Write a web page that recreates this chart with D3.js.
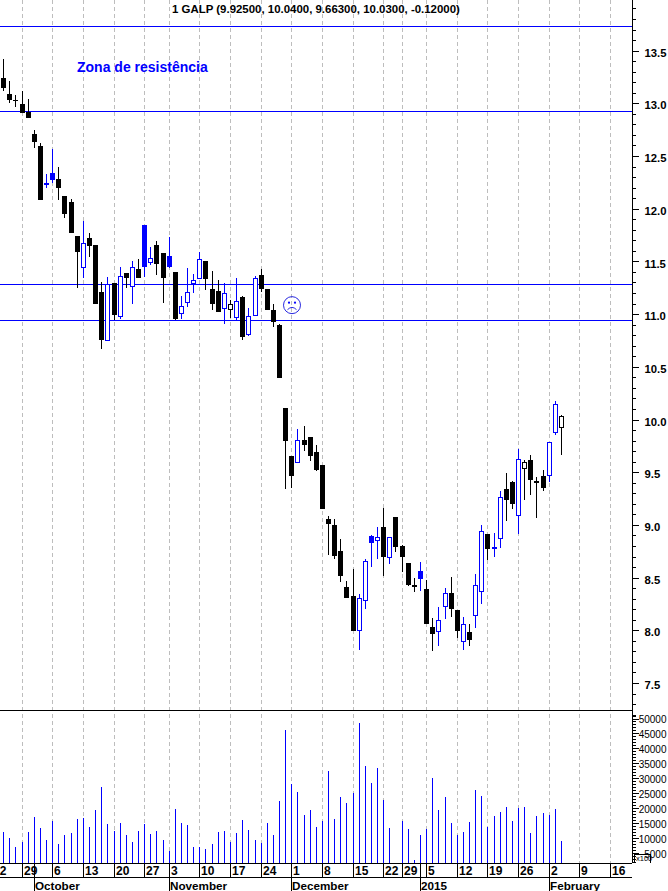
<!DOCTYPE html>
<html>
<head>
<meta charset="utf-8">
<script src="https://cdn.jsdelivr.net/npm/d3@7/dist/d3.min.js"></script>
<style>
html,body{margin:0;padding:0;background:#fff;overflow:hidden}
svg{display:block}
text{font-family:"Liberation Sans",Arial,sans-serif;fill:#000}
</style>
</head>
<body>
<svg id="c" width="668" height="891"></svg>
<script>
const title = "1 GALP (9.92500, 10.0400, 9.66300, 10.0300, -0.12000)";
const annotation = "Zona de resistência";
const tradingDays = [
 ["2014-09",[22,23,24,25,26,29,30]],
 ["2014-10",[1,2,3,6,7,8,9,10,13,14,15,16,17,20,21,22,23,24,27,28,29,30]],
 ["2014-11",[3,4,5,6,7,10,11,12,13,14,17,18,19,20,21,24,25,26,27,28]],
 ["2014-12",[1,2,3,4,5,8,9,10,11,12,15,16,17,18,19,22,23,24,29,30,31]],
 ["2015-01",[2,5,6,7,8,9,12,13,14,15,16,19,20,21,22,23,26,27,28,29,30]],
 ["2015-02",[2,3,4,5,6,9,10,11,12,13,16,17]]
];
const firstCandleDay = 2;
const open = [13.24,13.088,13.034,12.993,12.92,12.709,12.595,12.231,12.339,12.282,12.12,12.063,11.741,11.444,11.722,11.655,11.21,10.751,11.295,10.982,11.39,11.264,11.428,11.845,11.497,11.655,11.577,11.548,11.396,11.007,11.118,11.298,11.339,11.504,11.238,11.219,11.06,11.045,10.975,11.162,10.814,10.994,11.371,11.238,11.039,10.896,10.106,9.651,9.594,9.805,9.834,9.691,9.568,9.056,8.999,8.752,8.411,8.325,8.005,8.284,8.894,8.854,8.98,8.698,9.075,8.8,8.638,8.427,8.562,8.392,8.031,7.996,8.233,8.354,8.192,7.901,7.984,8.148,8.375,8.913,8.778,8.873,9.34,9.407,9.097,9.542,9.616,9.416,9.464,9.476,9.884,9.925];
const high = [13.42,13.211,13.079,13.119,13.041,12.747,12.62,12.329,12.566,12.395,12.12,12.092,11.744,11.883,11.769,11.655,11.304,11.352,11.295,11.45,11.39,11.504,11.523,11.845,11.636,11.69,11.58,11.731,11.402,11.172,11.437,11.377,11.586,11.504,11.409,11.323,11.292,11.134,11.339,11.169,11.058,11.361,11.428,11.238,11.096,10.909,10.106,9.651,9.91,9.938,9.834,9.758,9.568,9.084,9.056,8.866,8.467,8.581,8.341,8.676,8.904,8.98,9.16,8.888,9.075,8.809,8.638,8.496,8.648,8.477,8.116,8.221,8.401,8.505,8.192,8.126,8.059,8.534,8.999,8.913,8.923,9.321,9.492,9.416,9.72,9.613,9.663,9.454,9.521,9.783,10.175,10.04];
const low = [13.119,13.006,12.968,12.911,12.863,12.579,12.082,12.199,12.244,12.082,11.912,11.772,11.25,11.345,11.544,11.098,10.669,10.751,10.944,10.953,11.25,11.098,11.345,11.352,11.466,11.371,11.108,11.437,10.944,10.953,11.07,11.203,11.339,11.229,11.039,11.02,10.909,10.96,10.944,10.754,10.792,10.994,11.212,11.042,10.88,10.396,9.343,9.353,9.594,9.704,9.609,9.514,9.151,8.714,8.676,8.458,8.306,7.993,7.813,8.202,8.6,8.676,8.515,8.629,8.743,8.553,8.42,8.363,8.373,8.059,7.803,7.851,8.107,8.126,7.927,7.816,7.851,8.022,8.249,8.667,8.695,8.78,9.037,9.151,8.913,9.236,9.283,9.065,9.321,9.407,9.853,9.663];
const close = [13.148,13.031,13.028,12.911,12.863,12.636,12.082,12.244,12.269,12.199,11.95,11.772,11.592,11.672,11.646,11.098,10.757,11.283,10.991,11.364,11.345,11.444,11.345,11.45,11.529,11.475,11.345,11.45,10.95,11.074,11.212,11.32,11.52,11.336,11.098,11.02,11.197,11.093,11.121,10.785,10.979,11.339,11.238,11.042,10.928,10.396,9.799,9.467,9.802,9.761,9.656,9.521,9.151,9.008,8.705,8.515,8.306,7.993,8.303,8.654,8.828,8.882,8.695,8.882,8.79,8.695,8.43,8.411,8.486,8.059,7.964,8.095,8.351,8.202,7.993,8.057,7.908,8.427,8.939,8.771,8.787,9.262,9.236,9.198,9.622,9.594,9.429,9.4,9.35,9.783,10.15,10.03];
const volume = [12040,10030,7020,8690,12040,17050,13380,9360,15720,8030,11030,11700,16390,16720,13710,19400,27090,14710,12370,15050,11030,8690,12370,14710,11370,12370,9360,5680,19730,15050,14380,7020,7020,6350,8030,12040,12370,8690,11700,16050,12710,9360,8360,15050,11030,22400,46150,28090,25410,17720,19400,13710,15720,32440,16390,23740,21740,25080,48490,34110,28420,33440,22740,13380,0,15720,13040,2680,11030,13040,30100,19400,23740,15050,11030,12040,15380,26080,24080,13710,17390,18730,20400,15720,20060,20400,11700,17390,18390,17720,19730,9030];
const levels = [13.733,12.924,11.283,10.941];
const priceLabels = [7.5,8,8.5,9,9.5,10,10.5,11,11.5,12,12.5,13,13.5];
const volumeLabels = [5000,10000,15000,20000,25000,30000,35000,40000,45000,50000];

const BLUE="#0000ff", GRID="#bdbdbd";
const days = tradingDays.flatMap(([m,ds])=>ds.map(d=>new Date(`${m}-${String(d).padStart(2,"0")}T00:00:00Z`)));
const candles = open.map((o,i)=>({i,o,h:high[i],l:low[i],c:close[i],v:volume[i],prev:i?close[i-1]:Infinity}));

const rawX = d3.scaleLinear().domain([0,91]).range([3.2,561]);
const X = i=>Math.round(rawX(i));
const xDay = k=>X(k-firstCandleDay);
const Y = d3.scaleLinear().domain([7.5,13.5]).range([683,50.6]);
const V = d3.scaleLinear().domain([0,50000]).range([868,718.5]);
const W=668, axisX=632, sepY=710, bandTop=863, bandMid=877;
const svg = d3.select("#c");

const weekStarts = days.map((d,k)=>({d,k})).filter(({d,k})=>k===0||d3.utcMonday.floor(d)>d3.utcMonday.floor(days[k-1]));
const monthStarts = days.map((d,k)=>({d,k})).filter(({d,k})=>k>0&&d.getUTCMonth()!==days[k-1].getUTCMonth());
const monthName = d=>d.getUTCMonth()===0?String(d.getUTCFullYear()):d3.utcFormat("%B")(d);

// gridlines
svg.append("g").selectAll("line").data(weekStarts).join("line")
  .attr("x1",d=>xDay(d.k)+.5).attr("x2",d=>xDay(d.k)+.5).attr("y1",0).attr("y2",bandTop)
  .attr("stroke",GRID).attr("stroke-dasharray","4,3").attr("shape-rendering","crispEdges");

// resistance/support
svg.append("g").selectAll("line").data(levels).join("line")
  .attr("x1",0).attr("x2",axisX).attr("y1",d=>Math.round(Y(d))+.5).attr("y2",d=>Math.round(Y(d))+.5)
  .attr("stroke",BLUE).attr("shape-rendering","crispEdges");

// volume
svg.append("g").selectAll("line").data(candles.filter(d=>d.v>0)).join("line")
  .attr("x1",d=>X(d.i)+.5).attr("x2",d=>X(d.i)+.5)
  .attr("y1",bandTop).attr("y2",d=>Math.round(V(d.v)))
  .attr("stroke",BLUE).attr("shape-rendering","crispEdges");

// candles
const col = d=>d.c>=d.prev?BLUE:"#000";
const cg = svg.append("g").attr("shape-rendering","crispEdges");
cg.selectAll("line").data(candles).join("line")
  .attr("x1",d=>X(d.i)+.5).attr("x2",d=>X(d.i)+.5)
  .attr("y1",d=>Math.round(Y(d.h))).attr("y2",d=>Math.round(Y(d.l)))
  .attr("stroke",col);
cg.selectAll("rect").data(candles).join("rect").each(function(d){
  const top=Math.round(Y(Math.max(d.o,d.c))), bot=Math.round(Y(Math.min(d.o,d.c)));
  const hollow=d.c>d.o;
  d3.select(this)
    .attr("x",hollow?X(d.i)-1.5:X(d.i)-2)
    .attr("width",hollow?4:5)
    .attr("y",hollow?top+.5:top)
    .attr("height",Math.max(bot-top,1))
    .attr("fill",hollow?"#fff":col(d))
    .attr("stroke",hollow?col(d):"none");
});

// separator and axis lines
const frame = svg.append("g").attr("stroke","#000").attr("shape-rendering","crispEdges");
[[0,axisX,sepY+.5,sepY+.5],[0,axisX,bandTop+.5,bandTop+.5],[0,axisX,bandMid+.5,bandMid+.5]].forEach(l=>
  frame.append("line").attr("x1",l[0]).attr("x2",l[1]).attr("y1",l[2]).attr("y2",l[3]));

// price axis
const axisStyle = g=>{g.select(".domain").remove();g.selectAll("line").attr("stroke","#000").attr("shape-rendering","crispEdges");};
svg.append("line").attr("x1",axisX+.5).attr("x2",axisX+.5).attr("y1",0).attr("y2",bandTop)
  .attr("stroke","#000").attr("shape-rendering","crispEdges");
const minor = d3.range(72,140).map(d=>d/10);
svg.append("g").attr("transform",`translate(${axisX+.5},0)`)
  .call(d3.axisRight(Y).tickValues(minor).tickSize(3).tickFormat("")).call(axisStyle);
svg.append("g").attr("transform",`translate(${axisX+.5},0)`)
  .call(d3.axisRight(Y).tickValues(priceLabels).tickSize(6).tickPadding(6).tickFormat(d3.format(".1f")))
  .call(axisStyle)
  .call(g=>g.selectAll("text").attr("font-size",11.3).attr("font-weight","bold").attr("dy","0.5em"));

// volume axis
const vMinor = d3.range(2000,52000,1000);
svg.append("g").attr("transform",`translate(${axisX+.5},0)`)
  .call(d3.axisRight(V).tickValues(vMinor).tickSize(3).tickFormat("")).call(axisStyle);
svg.append("g").attr("transform",`translate(${axisX+.5},0)`)
  .call(d3.axisRight(V).tickValues(volumeLabels).tickSize(6).tickPadding(2).tickFormat(d=>d))
  .call(axisStyle)
  .call(g=>g.selectAll("text").attr("font-size",10).attr("text-anchor","end").attr("x",34).attr("dy","0.42em"));
// x100 box
const box = svg.append("g").attr("shape-rendering","crispEdges").attr("stroke","#000").attr("fill","none");
box.append("path").attr("d","M634.5,863V854.5H650.5V863");
svg.append("text").attr("x",636).attr("y",861).attr("font-size",7.5).text("x100");

// week and month bands
const wk = svg.append("g");
wk.selectAll("line").data(weekStarts.filter(d=>d.k>0)).join("line")
  .attr("x1",d=>xDay(d.k)+.5).attr("x2",d=>xDay(d.k)+.5).attr("y1",bandTop).attr("y2",bandMid)
  .attr("stroke","#000").attr("shape-rendering","crispEdges");
wk.selectAll("text").data(weekStarts).join("text")
  .attr("x",d=>xDay(d.k)+2).attr("y",875).attr("font-size",12).attr("font-weight","bold")
  .text(d=>d.d.getUTCDate());
const mo = svg.append("g");
mo.selectAll("line").data(monthStarts).join("line")
  .attr("x1",d=>xDay(d.k)+.5).attr("x2",d=>xDay(d.k)+.5).attr("y1",bandTop).attr("y2",891)
  .attr("stroke","#000").attr("shape-rendering","crispEdges");
mo.selectAll("text").data(monthStarts).join("text")
  .attr("x",d=>xDay(d.k)+1).attr("y",889.5).attr("font-size",11.7).attr("font-weight","bold")
  .text(d=>monthName(d.d));

// title and annotations
svg.append("text").attr("x",172).attr("y",12.5).attr("font-size",11.45).attr("font-weight","bold").text(title);
svg.append("text").attr("x",77).attr("y",Y(13.3)).attr("font-size",14).attr("font-weight","bold")
  .style("fill",BLUE).text(annotation);

// sad face
const fx=X(47.1), fy=Y(11.085);
const face = svg.append("g").attr("transform",`translate(${fx},${fy})`).attr("fill","none").attr("stroke","#2a2ae0");
face.append("circle").attr("r",8.5).attr("stroke-width",1);
face.append("circle").attr("cx",-3).attr("cy",-2.5).attr("r",1.1).attr("fill",BLUE).attr("stroke","none");
face.append("circle").attr("cx",3).attr("cy",-2.5).attr("r",1.1).attr("fill",BLUE).attr("stroke","none");
face.append("path").attr("d","M-4.5,4.5Q0,0 4.5,4.5").attr("stroke-width",1);
</script>
</body>
</html>
